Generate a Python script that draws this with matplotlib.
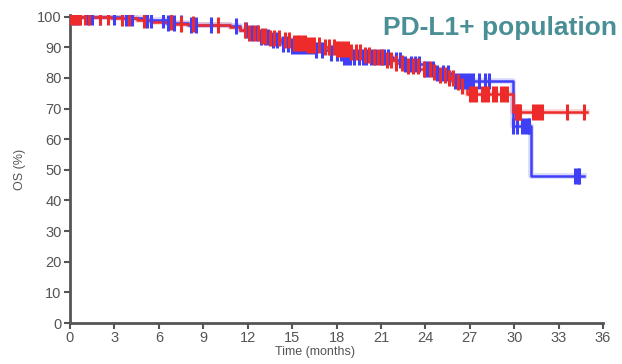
import numpy as np
import matplotlib.pyplot as plt

# 数据：KM 曲线（事件时间, 生存率）和删失时间
blue_t = [0, 3.5, 5.0, 6.5, 8.0, 10.8, 11.5, 12.0, 12.8, 13.5, 14.3, 15.0, 16.5, 17.5, 18.5,
          21.8, 22.5, 24.0, 24.8, 25.8, 29.9, 31.15]
blue_s = [100, 99.6, 98.9, 98.0, 97.3, 96.8, 95.5, 94.5, 93.5, 92.5, 91.2, 90.3, 89.2, 88.0, 86.8,
          85.8, 84.5, 83.0, 81.5, 78.9, 64.3, 48.0]
blue_end = 34.7
blue_cens = [0.2, 0.4, 0.6, 1.2, 1.5, 2.0, 3.0, 3.8, 4.2, 5.2, 5.5, 6.3, 6.6, 7.0, 7.5, 8.2, 8.5,
             9.5, 11.2, 11.9, 12.3, 12.6, 12.9, 13.2, 13.4, 13.7, 14.0, 14.4, 14.7, 15.0, 15.2,
             15.4, 15.6, 15.8, 16.0, 16.2, 16.4, 16.6, 17.0, 17.6, 18.0, 18.3, 18.5, 18.7, 18.9,
             19.2, 19.5, 19.8, 20.0, 20.3, 20.6, 21.0, 21.2, 21.5, 22.0, 22.3, 22.6, 23.0, 23.3,
             23.6, 24.0, 24.2, 24.5, 24.8, 25.2, 25.5, 26.0, 26.2, 26.4, 26.6, 26.8, 27.0, 27.2,
             27.6, 28.0, 28.3, 29.9, 30.2, 30.5, 30.7, 30.9, 31.0, 34.1, 34.3, 34.4]

red_t = [0, 2.8, 4.5, 5.5, 7.0, 8.5, 10.8, 11.5, 12.0, 12.8, 13.5, 14.2, 15.0, 16.0, 17.0, 18.0,
         19.0, 19.8, 20.5, 21.3, 22.0, 22.8, 23.6, 24.4, 25.0, 25.6, 26.0, 26.4, 26.8, 29.9]
red_s = [100, 99.5, 99.0, 98.3, 97.6, 97.2, 96.5, 95.5, 94.5, 93.8, 93.0, 92.3, 91.5, 90.8, 90.2,
         89.3, 88.5, 87.6, 86.8, 85.8, 85.0, 84.0, 83.0, 82.0, 81.0, 79.8, 78.6, 77.4, 74.8, 69.0]
red_end = 34.9
red_cens = [0.1, 0.3, 0.5, 0.7, 1.0, 1.3, 2.0, 2.6, 3.5, 4.0, 5.0, 6.8, 7.5, 8.3, 10.0, 11.8,
            12.1, 12.4, 12.7, 13.0, 13.2, 13.5, 13.8, 14.1, 14.5, 14.8, 15.1, 15.3, 15.5, 15.7,
            15.9, 16.1, 16.3, 16.5, 16.8, 17.2, 17.5, 17.8, 18.0, 18.2, 18.4, 18.6, 18.8, 19.0,
            19.3, 19.6, 19.9, 20.2, 20.5, 20.8, 21.1, 21.4, 21.7, 22.0, 22.4, 22.8, 23.2, 23.5,
            23.9, 24.3, 24.6, 25.0, 25.3, 25.6, 25.9, 26.2, 26.5, 27.0, 27.2, 27.4, 27.8, 28.0,
            28.2, 28.6, 28.8, 29.1, 29.3, 29.5, 30.1, 30.2, 30.3, 30.4, 31.3, 31.5, 31.7, 31.9,
            33.6, 34.7]

x_ticks = list(range(0, 37, 3))
y_ticks = list(range(0, 101, 10))
title = 'PD-L1+ population'

plt.rcParams['font.family'] = ['Liberation Sans', 'DejaVu Sans']

fig = plt.figure(figsize=(6.22, 3.64), dpi=100)
ax = fig.add_axes([0.1125, 0.1126, 0.857, 0.846])


def km(ax, t, s, end, cens, color):
    tt = np.append(t, end)
    ss = np.append(s, s[-1])
    ax.step(tt, ss, where='post', color=color, lw=4, alpha=0.2, zorder=2)
    ax.step(tt, ss, where='post', color=color, lw=1.8, zorder=3)
    idx = np.searchsorted(t, cens, side='right') - 1
    ax.plot(cens, np.array(s)[idx], ls='none', marker='|', ms=11, mew=2.2, color=color, zorder=4)


km(ax, blue_t, blue_s, blue_end, blue_cens, '#3f3ff5')
km(ax, red_t, red_s, red_end, red_cens, '#ee2b2b')

ax.set_xlim(0, 36)
ax.set_ylim(0, 100.5)
ax.set_xticks(x_ticks)
ax.set_yticks(y_ticks)
for sp in ['top', 'right']:
    ax.spines[sp].set_visible(False)
for sp in ['left', 'bottom']:
    ax.spines[sp].set_color('#555555')
    ax.spines[sp].set_linewidth(2)
ax.tick_params(colors='#555555', labelsize=10.5, width=1.5, length=4, pad=2)
ax.set_xlabel('Time (months)', fontsize=9, color='#555555', labelpad=0)
ax.xaxis.set_label_coords(0.46, -0.075)
ax.set_ylabel('OS (%)', fontsize=9, color='#555555', labelpad=8)
fig.text(0.992, 0.905, title, ha='right', va='baseline', fontsize=19, fontweight='bold',
         color='#4a8f95')

plt.savefig('out.png')
